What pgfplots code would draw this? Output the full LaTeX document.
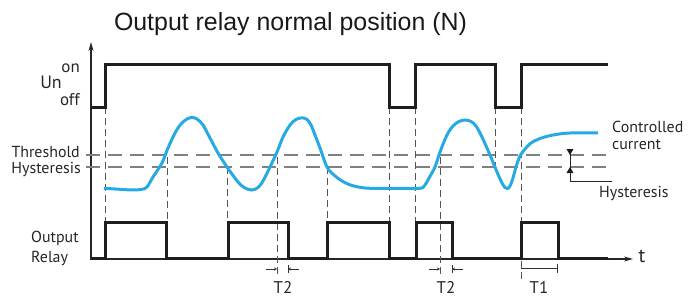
\documentclass[border=0pt]{standalone}
\usepackage{pgfplots}
\pgfplotsset{compat=1.18}
\usetikzlibrary{arrows.meta}
\usepackage{fontspec}
\setmainfont{PT Sans}
\newfontfamily\titlefont{Liberation Sans}
\definecolor{cur}{RGB}{39,170,225}
\definecolor{hgray}{RGB}{128,128,128}
\definecolor{vgray}{RGB}{85,85,85}
\definecolor{sig}{RGB}{30,30,30}
\tikzset{
  lbl/.style={font=\fontsize{16}{19}\selectfont, text=black!85, inner sep=0pt},
  hd/.style={hgray, line width=1.3bp, dash pattern=on 14bp off 8bp},
  vd/.style={vgray, line width=1bp, dash pattern=on 7bp off 4bp},
  sg/.style={sig, line width=3bp, line join=miter},
}
\begin{document}
\begin{tikzpicture}
\useasboundingbox (0,0) rectangle (693bp,300bp);
\begin{axis}[at={(0,0)}, anchor=south west, scale only axis,
  width=693bp, height=300bp, xmin=0, xmax=693, ymin=0, ymax=300,
  y dir=reverse, hide axis, clip=false,
]
% axes
\addplot[black!85, line width=1.2bp, -{Stealth[length=9bp,width=5bp]}] coordinates {(91,259) (91,42)};
\addplot[black!85, line width=1.2bp, -{Stealth[length=9bp,width=5bp]}] coordinates {(90,259) (633,259)};
% threshold / hysteresis levels
\addplot[hd] coordinates {(86,155) (606,155)};
\addplot[hd] coordinates {(86,167) (606,167)};
% vertical dashed guides
\addplot[vd] coordinates {(105,107) (105,222)};
\addplot[vd] coordinates {(167,157) (167,222)};
\addplot[vd] coordinates {(227,167) (227,222)};
\addplot[vd] coordinates {(277,157) (277,276)};
\addplot[vd] coordinates {(327,167) (327,222)};
\addplot[vd] coordinates {(389,107) (389,222)};
\addplot[vd] coordinates {(415,107) (415,222)};
\addplot[vd] coordinates {(440,157) (440,276)};
\addplot[vd] coordinates {(495,107) (495,167)};
\addplot[vd] coordinates {(521,107) (521,282)};
% Un signal
\addplot[sg] coordinates {(91,107) (105,107) (105,64) (389,64) (389,107) (415,107) (415,64) (495,64) (495,107) (521,107) (521,64) (608,64)};
% Output relay
\addplot[sg] coordinates {(91,258) (105,258) (105,222) (166,222) (166,258) (228,258) (228,222) (288,222) (288,258) (327,258) (327,222) (389,222) (389,258) (416,258) (416,222) (452,222) (452,258) (521,258) (521,222) (558,222) (558,258) (608,258)};
% controlled current
\addplot[cur, line width=3bp, smooth, tension=0.55] coordinates {
(104,188.3) (120,189.3) (133,190) (142,189.3) (147,187) (153,177) (162,163) (168,148) (175,133) (181,124) (187,119) (192,117.5) (197,119) (203,125) (210,138) (218,153) (227,167)
(238,182) (245,188) (252,190) (258,187.5) (263,181) (270,167) (277,152) (283,137) (290,125) (296,119.5) (302,117.8) (307,119.5) (311,125) (315,135) (320,148) (327,167) (334,175) (342,181) (352,185.5) (365,188) (380,188.3)
(400,188.3) (420,188.3) (425,185) (429,178) (435,167) (440,152) (447,135) (453,126) (459,121.5) (465,120) (471,121.5) (476,126) (482,137) (490,155) (497,172) (502,183) (505,187.5) (507.5,188.5) (510,186) (513,178) (516,167) (520,156) (525,149) (531,143) (540,138.5) (553,135) (570,133) (598,133)};
% hysteresis marker
\addplot[black!85, line width=1bp] coordinates {(570,149) (570,181) (612,181)};
\addplot[fill=black!90, draw=none] coordinates {(566.5,149) (573.5,149) (570,155)} --cycle;
\addplot[fill=black!90, draw=none] coordinates {(566.5,173) (573.5,173) (570,167)} --cycle;
% T2 markers
\addplot[black!80, line width=0.8bp, -{Stealth[length=3bp,width=3bp]}] coordinates {(266,269) (277,269)};
\addplot[black!80, line width=0.8bp, -{Stealth[length=3bp,width=3bp]}] coordinates {(299,269) (288,269)};
\addplot[black!80, line width=0.8bp] coordinates {(288,265) (288,273)};
\addplot[black!80, line width=0.8bp, -{Stealth[length=3bp,width=3bp]}] coordinates {(429,269) (440,269)};
\addplot[black!80, line width=0.8bp, -{Stealth[length=3bp,width=3bp]}] coordinates {(463,269) (452,269)};
\addplot[black!80, line width=0.8bp] coordinates {(452,265) (452,273)};
% T1 marker
\addplot[black!80, line width=0.9bp] coordinates {(521,268) (557,268)};
\addplot[black!80, line width=0.9bp] coordinates {(557,264) (557,273)};
% texts
\node[anchor=base, inner sep=0pt, font=\titlefont\fontsize{25}{30}\selectfont, text=black!90] at (axis cs:290.5,30) {Output relay normal position (N)};
\node[lbl, anchor=base east, font=\fontsize{17}{20}\selectfont] at (axis cs:80,72) {on};
\node[lbl, anchor=base east, font=\fontsize{18}{21}\selectfont] at (axis cs:62,88) {Un};
\node[lbl, anchor=base east, font=\fontsize{17}{20}\selectfont] at (axis cs:80,105) {off};
\node[lbl, anchor=base east] at (axis cs:80,157) {Threshold};
\node[lbl, anchor=base east] at (axis cs:81,173) {Hysteresis};
\node[lbl, anchor=base west] at (axis cs:31,242) {Output};
\node[lbl, anchor=base west] at (axis cs:31,262) {Relay};
\node[lbl, anchor=base west] at (axis cs:612,132) {Controlled};
\node[lbl, anchor=base west] at (axis cs:612,149) {current};
\node[lbl, anchor=base west] at (axis cs:599,197) {Hysteresis};
\node[lbl, anchor=base, font=\fontsize{20}{24}\selectfont] at (axis cs:642,262) {t};
\node[lbl, anchor=base, font=\fontsize{17}{20}\selectfont] at (axis cs:283,293) {T2};
\node[lbl, anchor=base, font=\fontsize{17}{20}\selectfont] at (axis cs:446,293) {T2};
\node[lbl, anchor=base, font=\fontsize{17}{20}\selectfont] at (axis cs:539,293) {T1};
\end{axis}
\end{tikzpicture}
\end{document}
